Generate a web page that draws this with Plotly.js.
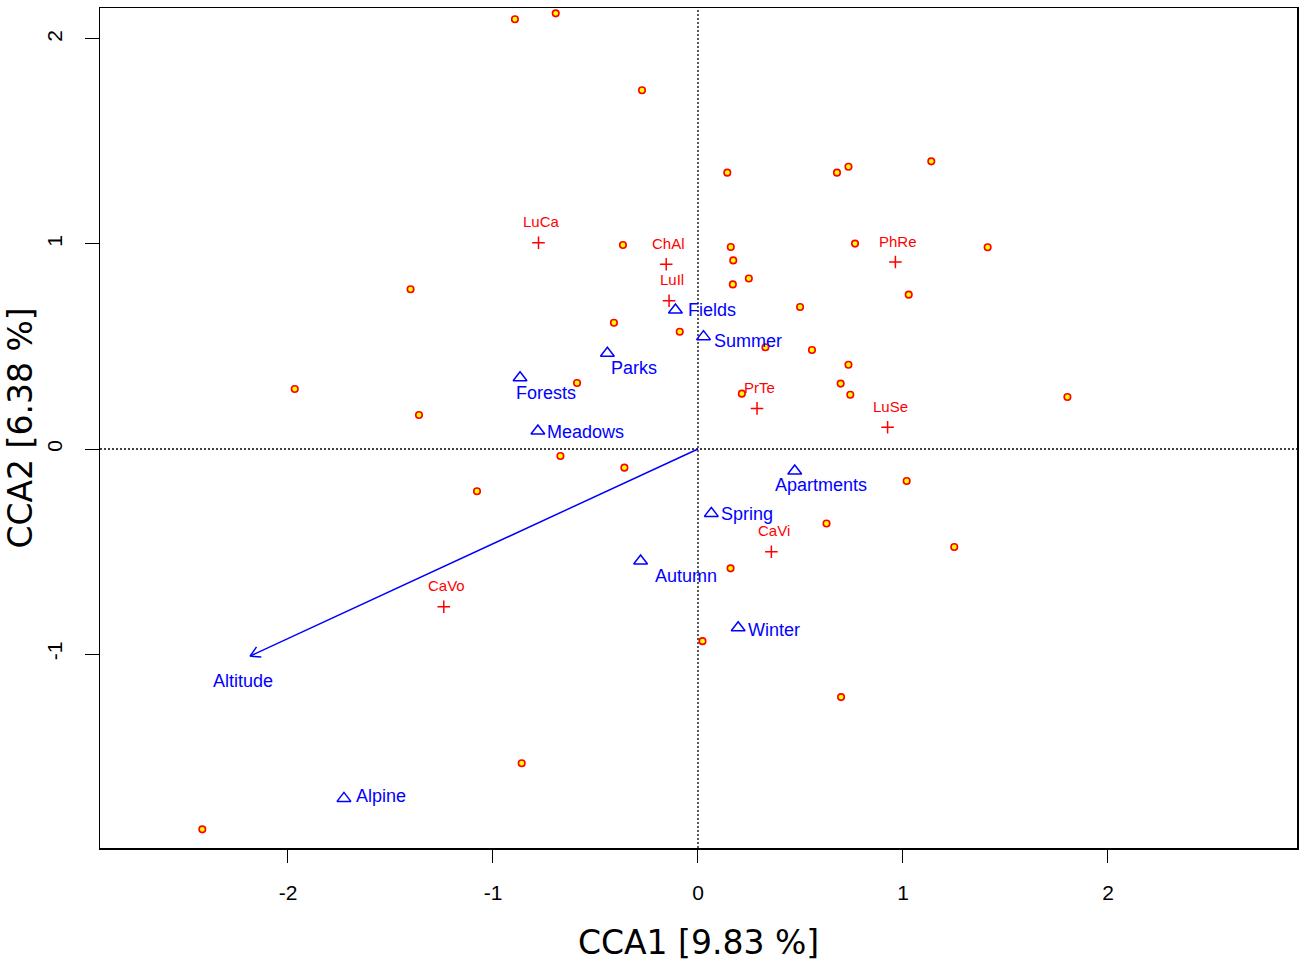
<!DOCTYPE html>
<html>
<head>
<meta charset="utf-8">
<script src="https://cdn.plot.ly/plotly-3.0.1.min.js"></script>
<style>html,body{margin:0;padding:0;background:#fff;}#chart{width:1299px;height:962px;}</style>
</head>
<body>
<div id="chart"></div>
<script>
// Site scores (CCA1, CCA2)
const siteX = [-0.893,-0.694,-0.273,-0.366,-1.402,0.143,0.678,0.734,1.138,0.160,
               0.172,0.248,0.170,0.766,1.413,1.028,-0.410,-0.089,-1.967,-0.590,
               -1.361,-0.671,-0.359,-1.078,0.498,0.329,0.556,0.734,0.696,0.743,
               0.214,1.802,1.018,0.627,1.250,0.159,0.022,-0.860,-2.418,0.698];
const siteY = [2.096,2.125,1.750,0.995,0.779,1.348,1.348,1.377,1.403,0.985,
               0.920,0.832,0.803,1.002,0.984,0.753,0.616,0.572,0.293,0.322,
               0.166,-0.034,-0.091,-0.206,0.693,0.496,0.483,0.411,0.319,0.265,
               0.270,0.254,-0.156,-0.363,-0.478,-0.582,-0.937,-1.533,-1.855,-1.210];

// Species scores
const speciesNames = ["LuCa","ChAl","LuIl","PhRe","PrTe","LuSe","CaVi","CaVo"];
const speciesX = [-0.778,-0.155,-0.141,0.963,0.288,0.925,0.358,-1.240];
const speciesY = [1.006,0.901,0.723,0.912,0.198,0.106,-0.501,-0.769];

// Factor centroids
const factorNames = ["Fields","Summer","Parks","Forests","Meadows","Apartments","Spring","Autumn","Winter","Alpine"];
const factorX = [-0.110,0.027,-0.442,-0.868,-0.781,0.472,0.065,-0.280,0.196,-1.727];
const factorY = [0.678,0.548,0.467,0.348,0.088,-0.107,-0.314,-0.546,-0.872,-1.704];

// Continuous variable (biplot arrow)
const vectorName = "Altitude";
const vectorX = -2.185;
const vectorY = -1.010;

// Tick values and axis labels
const xTicks = [-2,-1,0,1,2];
const yTicks = [-1,0,1,2];
const xTitle = "CCA1 [9.83 %]";
const yTitle = "CCA2 [6.38 %]";

// ---- styling / label placement (pixel offsets) ----
const factorLabelStyle = {
  "Fields":     {xanchor:"left", xshift:11, yshift:0},
  "Summer":     {xanchor:"left", xshift:8,  yshift:-4},
  "Parks":      {xanchor:"left", xshift:2,  yshift:-15},
  "Forests":    {xanchor:"left", xshift:-6, yshift:-15.5},
  "Meadows":    {xanchor:"left", xshift:7,  yshift:-1.5},
  "Apartments": {xanchor:"left", xshift:-22,yshift:-14},
  "Spring":     {xanchor:"left", xshift:8,  yshift:-1},
  "Autumn":     {xanchor:"left", xshift:12, yshift:-15},
  "Winter":     {xanchor:"left", xshift:8,  yshift:-2.5},
  "Alpine":     {xanchor:"left", xshift:10, yshift:2}
};

const RED = "#ff0000", BLUE = "#0000ff", YEL = "#ffff00";
const labelFont = "Liberation Sans, Arial, sans-serif";

// arrow head computed from the vector direction (equal px/unit on both axes)
const len = Math.hypot(vectorX, vectorY);
const ux = vectorX/len, uy = vectorY/len;
const headLen = 0.055, ang = Math.PI/6;
function rot(x,y,a){return [x*Math.cos(a)-y*Math.sin(a), x*Math.sin(a)+y*Math.cos(a)];}
const h1 = rot(-ux,-uy, ang), h2 = rot(-ux,-uy,-ang);

const traces = [
  {
    x: factorX, y: factorY, type: "scatter", mode: "markers", text: factorNames,
    marker: {symbol: "triangle-up-open", size: 12, color: BLUE, line: {color: BLUE, width: 1.5}},
    showlegend: false
  },
  {
    x: [0, vectorX, null, vectorX + headLen*h1[0], vectorX, vectorX + headLen*h2[0]],
    y: [0, vectorY, null, vectorY + headLen*h1[1], vectorY, vectorY + headLen*h2[1]],
    type: "scatter", mode: "lines", line: {color: BLUE, width: 1.5},
    hoverinfo: "skip", showlegend: false
  },
  {
    x: speciesX, y: speciesY, type: "scatter", mode: "markers", text: speciesNames,
    marker: {symbol: "cross-thin-open", size: 9, color: RED, line: {color: RED, width: 1.5}},
    showlegend: false
  },
  {
    x: siteX, y: siteY, type: "scatter", mode: "markers", hoverinfo: "x+y",
    marker: {symbol: "circle", size: 6.5, color: YEL, line: {color: RED, width: 1.6}},
    showlegend: false
  }
];

const annotations = [];
speciesNames.forEach((n,i)=>{
  annotations.push({x: speciesX[i], y: speciesY[i], xref:"x", yref:"y", text:n, showarrow:false,
    xanchor:"center", yanchor:"middle", xshift:2.5, yshift:21,
    font:{family: labelFont, size: 15, color: RED}});
});
factorNames.forEach((n,i)=>{
  const s = factorLabelStyle[n];
  annotations.push({x: factorX[i], y: factorY[i], xref:"x", yref:"y", text:n, showarrow:false,
    xanchor:s.xanchor, yanchor:"middle", xshift:s.xshift, yshift:s.yshift,
    font:{family: labelFont, size: 18, color: BLUE}});
});
annotations.push({x: vectorX, y: vectorY, xref:"x", yref:"y", text: vectorName, showarrow:false,
  xanchor:"center", yanchor:"middle", xshift:-7.5, yshift:-24.5,
  font:{family: labelFont, size: 18, color: BLUE}});

const layout = {
  width: 1299, height: 962,
  margin: {l: 100, r: 2, t: 8, b: 114, pad: 0},
  paper_bgcolor: "#fff", plot_bgcolor: "#fff",
  showlegend: false,
  xaxis: {
    range: [-2.917, 2.922], tickmode: "array", tickvals: xTicks, ticktext: xTicks.map(String),
    ticks: "outside", ticklen: 13, tickwidth: 1, tickcolor: "#000",
    showgrid: false, zeroline: false, showline: true, mirror: true, linecolor: "#000", linewidth: 1.5,
    tickfont: {family: labelFont, size: 21, color: "#000"}, ticklabelstandoff: 12,
    title: {text: xTitle, font: {family: "DejaVu Sans, sans-serif", size: 33, color: "#000"}, standoff: 28},
    automargin: false
  },
  yaxis: {
    range: [-1.946, 2.151], tickmode: "array", tickvals: yTicks, ticktext: yTicks.map(String),
    ticks: "outside", ticklen: 14, tickwidth: 1, tickcolor: "#000", tickangle: -90,
    showgrid: false, zeroline: false, showline: true, mirror: true, linecolor: "#000", linewidth: 1.5,
    tickfont: {family: labelFont, size: 21, color: "#000"}, ticklabelstandoff: 14,
    title: {text: yTitle, font: {family: "DejaVu Sans, sans-serif", size: 33, color: "#000"}, standoff: 0},
    automargin: false
  },
  shapes: [
    {type: "line", xref: "x", yref: "paper", x0: 0, x1: 0, y0: 0, y1: 1,
     line: {color: "#000", width: 1.3, dash: "2px,2px"}, layer: "below"},
    {type: "line", xref: "paper", yref: "y", x0: 0, x1: 1, y0: 0, y1: 0,
     line: {color: "#000", width: 1.3, dash: "2px,2px"}, layer: "below"}
  ],
  annotations: annotations
};

Plotly.newPlot("chart", traces, layout, {displayModeBar: false, staticPlot: true});
</script>
</body>
</html>
